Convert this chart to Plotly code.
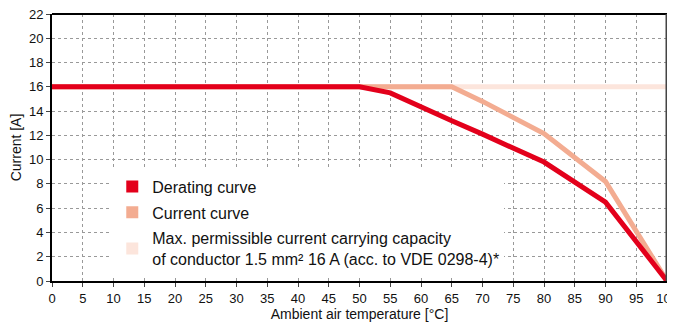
import plotly.graph_objects as go

temp_derating = [0, 50, 55, 60, 65, 70, 75, 80, 90, 100]
current_derating = [16, 16, 15.5, 14.3, 13.2, 12.1, 11.0, 9.8, 6.5, 0]

temp_current = [0, 65, 70, 75, 80, 90, 100]
current_current = [16, 16, 14.8, 13.5, 12.15, 8.2, 0]

temp_max = [0, 100]
current_max = [16, 16]

x_ticks = list(range(0, 101, 5))
y_ticks = list(range(0, 23, 2))

names = ["Derating curve", "Current curve",
         "Max. permissible current carrying capacity<br>of conductor 1.5 mm² 16 A (acc. to VDE 0298-4)*"]
colors = ["#E3001B", "#F3AC91", "#FCE5DC"]

fig = go.Figure()
fig.add_trace(go.Scatter(x=temp_max, y=current_max, mode="lines",
                         line=dict(color=colors[2], width=5), showlegend=False))
fig.add_trace(go.Scatter(x=temp_current, y=current_current, mode="lines",
                         line=dict(color=colors[1], width=5), showlegend=False))
fig.add_trace(go.Scatter(x=temp_derating, y=current_derating, mode="lines",
                         line=dict(color=colors[0], width=5), showlegend=False))
for i, (n, c) in enumerate(zip(names, colors)):
    fig.add_trace(go.Scatter(x=[None], y=[None], mode="markers", name=n,
                             legendgroup=str(i),
                             marker=dict(symbol="square", size=12, color=c)))

fam = "Liberation Sans, Arial, sans-serif"
tickfont = dict(family=fam, size=13, color="#111")
titlefont = dict(family=fam, size=14, color="#111")
fig.update_layout(
    width=667, height=321,
    margin=dict(l=44, r=8, t=6, b=48),
    paper_bgcolor="white", plot_bgcolor="white",
    font=tickfont,
    showlegend=True,
    legend=dict(x=0.098, y=0.417, xanchor="left", yanchor="top",
                bgcolor="white", borderwidth=0, tracegroupgap=2,
                font=dict(family=fam, size=16, color="#111")),
    xaxis=dict(range=[0, 100], tickvals=x_ticks, ticks="outside", ticklen=4,
               showline=True, linecolor="black", linewidth=2, mirror=False,
               showgrid=True, gridcolor="#999", griddash="dot", gridwidth=1,
               zeroline=False, automargin=False, ticklabeloverflow="allow",
               title=dict(text="Ambient air temperature [°C]", standoff=4, font=titlefont),
               tickfont=tickfont),
    yaxis=dict(range=[0, 22], tickvals=y_ticks, ticks="outside", ticklen=4,
               showline=True, linecolor="black", linewidth=2,
               showgrid=True, gridcolor="#999", griddash="dot", gridwidth=1,
               zeroline=False, automargin=False, ticklabeloverflow="allow",
               title=dict(text="Current [A]", standoff=6, font=titlefont),
               tickfont=tickfont),
    shapes=[
        dict(type="line", xref="paper", yref="paper", x0=0, x1=1, y0=1, y1=1,
             line=dict(color="black", width=2), layer="above"),
        dict(type="line", xref="paper", yref="paper", x0=1, x1=1, y0=0, y1=1,
             line=dict(color="#444", width=3), layer="above"),
    ],
)
fig.write_html("out.html")
